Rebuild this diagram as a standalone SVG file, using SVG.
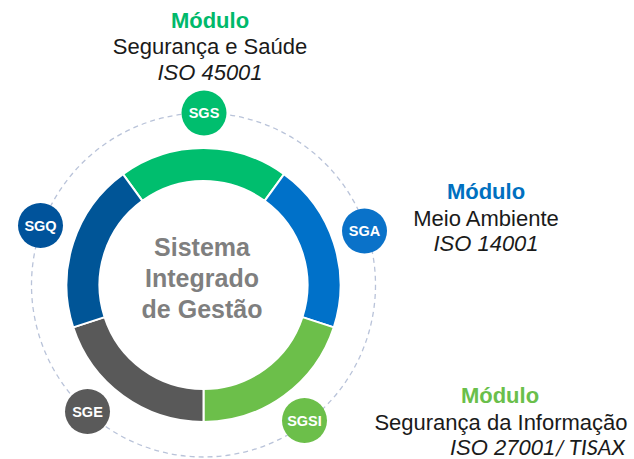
<svg xmlns="http://www.w3.org/2000/svg" width="634" height="459" viewBox="0 0 634 459">
<style>
.seg{stroke:#ffffff;stroke-width:2}
.node text{font-family:"Liberation Sans",Arial,sans-serif;font-weight:bold;font-size:14.5px;fill:#ffffff;text-anchor:middle}
.lbl{font-family:"Liberation Sans",Arial,sans-serif;font-size:22px;fill:#1a1a1a;text-anchor:middle}
.mod{font-weight:bold}
.it{font-style:italic}
.center{font-family:"Liberation Sans",Arial,sans-serif;font-weight:bold;font-size:25px;fill:#7f7f7f;text-anchor:middle}
</style>
<rect width="634" height="459" fill="#ffffff"/>
<g id="connectors">
<circle cx="203.5" cy="285" r="172" fill="none" stroke="#b9c3d9" stroke-width="1.3" stroke-dasharray="5 4"/>
</g>
<g id="ring">
<path class="seg" fill="#00be6e" d="M122.97,174.17 A137,137 0 0 1 284.03,174.17 L264.63,200.86 A104,104 0 0 0 142.37,200.86 Z"/>
<path class="seg" fill="#0071c9" d="M284.03,174.17 A137,137 0 0 1 333.80,327.33 L302.41,317.14 A104,104 0 0 0 264.63,200.86 Z"/>
<path class="seg" fill="#6cbf4a" d="M333.80,327.33 A137,137 0 0 1 203.5,422 L203.5,389 A104,104 0 0 0 302.41,317.14 Z"/>
<path class="seg" fill="#595959" d="M203.5,422 A137,137 0 0 1 73.20,327.33 L104.59,317.14 A104,104 0 0 0 203.5,389 Z"/>
<path class="seg" fill="#005597" d="M73.20,327.33 A137,137 0 0 1 122.97,174.17 L142.37,200.86 A104,104 0 0 0 104.59,317.14 Z"/>
</g>
<g id="center-label">
<text class="center" x="202" y="256">Sistema</text>
<text class="center" x="202" y="287">Integrado</text>
<text class="center" x="202" y="318">de Gestão</text>
</g>
<g id="node-sgs" class="node"><circle cx="204" cy="113" r="22.5" fill="#00be6e"/><text x="204" y="118">SGS</text></g>
<g id="node-sga" class="node"><circle cx="364.5" cy="231" r="22.5" fill="#0a72c9"/><text x="364.5" y="236">SGA</text></g>
<g id="node-sgsi" class="node"><circle cx="304.5" cy="420.5" r="22.5" fill="#6cbf4a"/><text x="304.5" y="425.5">SGSI</text></g>
<g id="node-sge" class="node"><circle cx="87.5" cy="411.5" r="22.5" fill="#5a5a5a"/><text x="87.5" y="416.5">SGE</text></g>
<g id="node-sgq" class="node"><circle cx="40.5" cy="225.5" r="22.5" fill="#00539b"/><text x="40.5" y="230.5">SGQ</text></g>
<g id="label-sgs">
<text class="lbl mod" x="210" y="27.5" fill="#00b96b" style="fill:#00b96b">Módulo</text>
<text class="lbl" x="210" y="54">Segurança e Saúde</text>
<text class="lbl it" x="210" y="80">ISO 45001</text>
</g>
<g id="label-sga">
<text class="lbl mod" x="486" y="199" style="fill:#0070c0">Módulo</text>
<text class="lbl" x="486" y="226">Meio Ambiente</text>
<text class="lbl it" x="486" y="251">ISO 14001</text>
</g>
<g id="label-sgsi">
<text class="lbl mod" x="500" y="403" style="fill:#6abf4b">Módulo</text>
<text class="lbl" x="501" y="430">Segurança da Informação</text>
<text class="lbl it" x="450" y="455" style="text-anchor:start">ISO 27001<tspan style="font-family:Lato,'Liberation Sans',sans-serif">/ TISAX</tspan></text>
</g>
</svg>
